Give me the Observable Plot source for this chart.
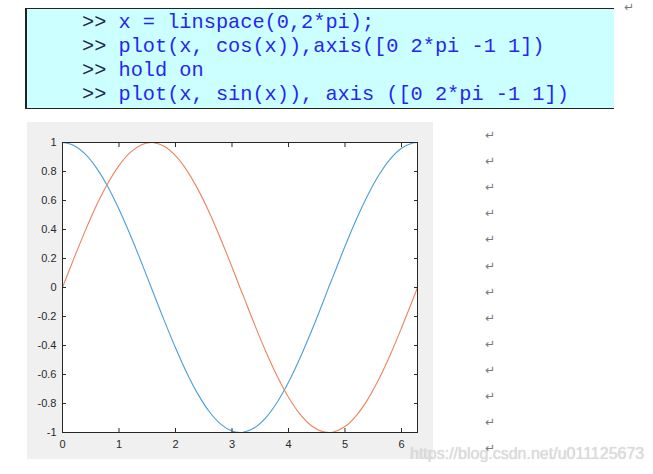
<!DOCTYPE html>
<html>
<head>
<meta charset="utf-8">
<script src="https://cdn.jsdelivr.net/npm/d3@7"></script>
<script src="https://cdn.jsdelivr.net/npm/@observablehq/plot@0.6"></script>
<style>
  html, body { margin: 0; padding: 0; background: #fff; }
  #page { position: relative; width: 653px; height: 474px; overflow: hidden; background: #fff; }
  #code {
    position: absolute; left: 25px; top: 8px; width: 587px; height: 99px;
    background: #ccffff; border-top: 1px solid #222; border-bottom: 1px solid #222;
    border-left: 2px solid #222; box-sizing: content-box;
  }
  .ln { position: absolute; left: 55px; font-family: "Liberation Mono", "Courier New", monospace;
        font-size: 20.3px; line-height: 24px; color: #2626f2; white-space: pre; }
  .pr { color: #23234a; }
  .pil { position: absolute; font-family: "DejaVu Sans", sans-serif; font-size: 12px; color: #7a7a7a; line-height: 12px; }
  #plotbox { position: absolute; left: 27px; top: 122px; width: 406px; height: 337px; background: #f0f0f0; }
  #wm { position: absolute; left: 410px; top: 445px; font-family: "Liberation Sans", Arial, sans-serif;
        font-size: 16px; color: #dcdcdc; text-shadow: 0 0 1px rgba(120,120,120,0.35); white-space: nowrap; }
</style>
</head>
<body>
<div id="page">
  <div id="code"></div>
  <div id="plotbox"></div>
  <div id="wm">https://blog.csdn.net/u011125673</div>
</div>
<script>
// Code lines shown in the box
const prompt = ">>";
const codeLines = [
  "x = linspace(0,2*pi);",
  "plot(x, cos(x)),axis([0 2*pi -1 1])",
  "hold on",
  "plot(x, sin(x)), axis ([0 2*pi -1 1])"
];

// Values
const xs   = [0, 0.2, 0.4, 0.6, 0.8, 1.0, 1.2, 1.4, 1.57, 1.6, 1.8, 2.0, 2.2, 2.4, 2.6, 2.8, 3.0, 3.14, 3.2, 3.4, 3.6, 3.8, 4.0, 4.2, 4.4, 4.6, 4.71, 4.8, 5.0, 5.2, 5.4, 5.6, 5.8, 6.0, 6.2, 6.2832];
const cosY = [1, 0.98, 0.921, 0.825, 0.697, 0.54, 0.362, 0.17, 0.0, -0.029, -0.227, -0.416, -0.589, -0.737, -0.857, -0.942, -0.99, -1.0, -0.998, -0.967, -0.897, -0.791, -0.654, -0.49, -0.307, -0.112, 0.0, 0.087, 0.284, 0.469, 0.635, 0.776, 0.886, 0.96, 0.997, 1.0];
const sinY = [0, 0.199, 0.389, 0.565, 0.717, 0.841, 0.932, 0.985, 1.0, 0.9996, 0.974, 0.909, 0.808, 0.675, 0.516, 0.335, 0.141, 0.0, -0.058, -0.256, -0.443, -0.612, -0.757, -0.872, -0.952, -0.994, -1.0, -0.996, -0.959, -0.883, -0.773, -0.631, -0.465, -0.279, -0.083, 0.0];
const xDomain = [0, 6.2832];
const yDomain = [-1, 1];
const xTicks = [0, 1, 2, 3, 4, 5, 6];
const yTicks = [-1, -0.8, -0.6, -0.4, -0.2, 0, 0.2, 0.4, 0.6, 0.8, 1];
const seriesColors = { cos: "#4a9ed8", sin: "#ea8460" };

// Build code box
const code = document.getElementById("code");
codeLines.forEach((t, i) => {
  const d = document.createElement("div");
  d.className = "ln";
  d.style.top = (2 + i * 24) + "px";
  d.innerHTML = '<span class="pr">' + prompt + '</span> ' + t.replace(/&/g, "&amp;").replace(/</g, "&lt;");
  code.appendChild(d);
});

// Paragraph marks
const page = document.getElementById("page");
function pil(x, y) {
  const s = document.createElement("span");
  s.className = "pil"; s.textContent = "↵";
  s.style.left = x + "px"; s.style.top = y + "px";
  page.appendChild(s);
}
pil(624, 1);
for (let i = 0; i < 13; i++) pil(485, 129 + i * 26.1);

const data = xs.map((x, i) => ({ x, c: cosY[i], s: sinY[i] }));
const fmt = d => String(d);

const chart = Plot.plot({
  width: 406, height: 337,
  marginLeft: 35, marginRight: 16, marginTop: 20, marginBottom: 27,
  style: { background: "transparent", color: "#2a2a2a", fontFamily: "'Liberation Sans', Arial, sans-serif", fontSize: "11px" },
  x: { domain: xDomain },
  y: { domain: yDomain },
  marks: [
    Plot.frame({ fill: "white", stroke: null }),
    Plot.lineY(data, { x: "x", y: "c", stroke: seriesColors.cos, strokeWidth: 1.1, curve: "catmull-rom" }),
    Plot.lineY(data, { x: "x", y: "s", stroke: seriesColors.sin, strokeWidth: 1.1, curve: "catmull-rom" }),
    Plot.axisX({ anchor: "bottom", ticks: xTicks, tickSize: -4, tickPadding: 12, tickFormat: fmt, label: null }),
    Plot.axisX({ anchor: "top", ticks: xTicks, tickSize: -4, tickFormat: () => "", label: null }),
    Plot.axisY({ anchor: "left", ticks: yTicks, tickSize: -4, tickPadding: 10, tickFormat: fmt, label: null }),
    Plot.axisY({ anchor: "right", ticks: yTicks, tickSize: -4, tickFormat: () => "", label: null }),
    Plot.frame({ stroke: "#262626", strokeWidth: 1 })
  ]
});
document.getElementById("plotbox").appendChild(chart);
</script>
</body>
</html>
